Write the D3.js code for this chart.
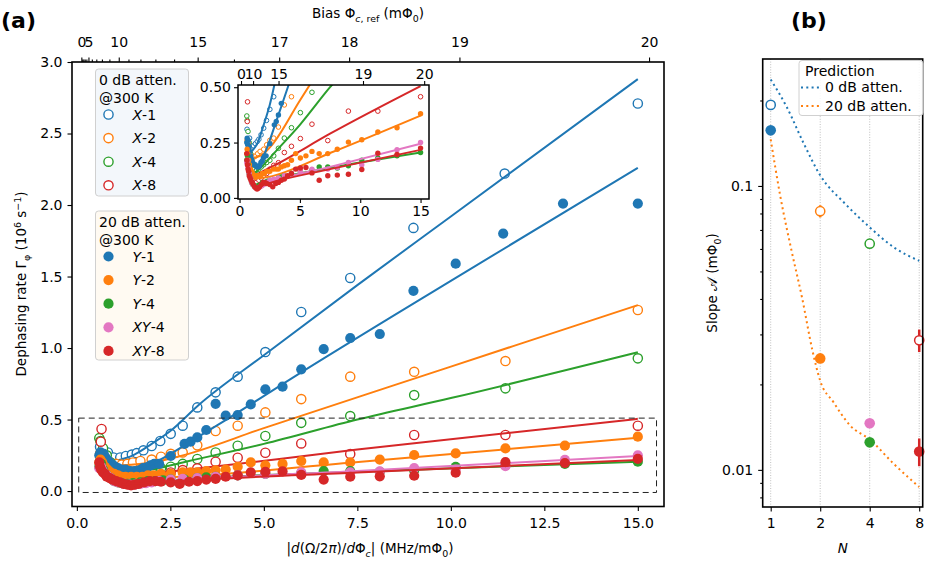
<!DOCTYPE html>
<html lang="en">
<head>
<meta charset="UTF-8">
<title>Dephasing rate vs flux slope</title>
<script src="https://d3js.org/d3.v7.min.js"></script>
<style>
  body { margin: 0; background: #fff; }
  svg text { font-family: "DejaVu Sans", sans-serif; fill: #000; }
</style>
</head>
<body>
<svg id="fig" width="925" height="563"></svg>
<script>
// ---------- panel (a): [slope, dephasing rate] ----------
const ptsX1 = [[0.62,0.31],[0.83,0.27],[0.98,0.235],[1.16,0.235],[1.31,0.245],[1.47,0.255],[1.6,0.265],
  [1.78,0.285],[2.0,0.315],[2.23,0.35],[2.51,0.40],[2.83,0.457],[3.22,0.585],[3.71,0.69],[4.3,0.80],
  [5.04,0.972],[6.0,1.252],[7.31,1.49],[9.0,1.84],[11.44,2.22],[15.0,2.71]];
const ptsX2 = [[0.62,0.26],[0.75,0.22],[0.9,0.2],[1.05,0.19],[1.2,0.185],[1.35,0.19],[1.5,0.2],[1.7,0.21],
  [2.0,0.22],[2.25,0.24],[2.51,0.26],[2.83,0.27],[3.22,0.32],[3.71,0.42],[4.3,0.457],[5.04,0.55],
  [6.0,0.643],[7.31,0.80],[9.02,0.834],[11.46,0.909],[15.0,1.266]];
const ptsX4 = [[0.6,0.37],[0.63,0.35],[0.7,0.3],[0.8,0.25],[0.9,0.2],[1.0,0.17],[1.1,0.15],[1.25,0.13],
  [1.4,0.125],[1.6,0.13],[1.8,0.14],[2.0,0.15],[2.25,0.16],[2.51,0.17],[2.83,0.19],[3.22,0.224],
  [3.71,0.27],[4.3,0.317],[5.04,0.385],[6.0,0.477],[7.31,0.524],[9.02,0.671],[11.46,0.718],[15.0,0.928]];
const ptsX8 = [[0.66,0.434],[0.64,0.345],[0.7,0.25],[0.8,0.18],[0.9,0.13],[1.0,0.1],[1.1,0.08],[1.25,0.07],
  [1.4,0.07],[1.6,0.08],[1.8,0.09],[2.0,0.1],[2.25,0.11],[2.51,0.13],[2.83,0.147],[3.22,0.159],
  [3.71,0.205],[4.3,0.233],[5.04,0.268],[6.0,0.333],[7.31,0.259],[9.02,0.392],[11.46,0.392],[15.0,0.457]];
const ptsY1 = [[0.6,0.25],[0.63,0.27],[0.67,0.24],[0.72,0.26],[0.78,0.23],[0.85,0.21],[0.92,0.19],
  [1.0,0.175],[1.1,0.16],[1.2,0.15],[1.3,0.15],[1.42,0.14],[1.55,0.14],[1.66,0.145],[1.77,0.16],
  [1.87,0.166],[1.97,0.18],[2.07,0.19],[2.2,0.19],[2.51,0.245],[2.88,0.33],[3.04,0.345],[3.22,0.375],
  [3.46,0.427],[3.71,0.61],[3.98,0.527],[4.3,0.531],[4.65,0.606],[5.04,0.711],[5.5,0.73],[6.0,0.851],
  [6.6,0.993],[7.31,1.07],[8.1,1.098],[9.0,1.40],[10.13,1.59],[11.4,1.80],[13.0,2.01],[15.0,2.01]];
const ptsY2 = [[0.6,0.2],[0.63,0.22],[0.68,0.2],[0.75,0.17],[0.82,0.15],[0.9,0.13],[1.0,0.12],[1.1,0.11],
  [1.2,0.1],[1.3,0.1],[1.45,0.1],[1.6,0.1],[1.75,0.1],[1.9,0.11],[2.06,0.11],[2.25,0.12],[2.51,0.12],
  [2.83,0.13],[3.04,0.13],[3.22,0.13],[3.46,0.14],[3.71,0.145],[3.98,0.15],[4.3,0.17],[4.65,0.2],
  [5.04,0.18],[5.5,0.19],[6.0,0.21],[6.6,0.2],[7.31,0.2],[8.1,0.22],[9.02,0.252],[10.13,0.263],
  [11.46,0.298],[13.05,0.317],[15.0,0.38]];
const ptsY4 = [[0.6,0.17],[0.65,0.19],[0.7,0.15],[0.8,0.11],[0.9,0.09],[1.0,0.07],[1.1,0.06],[1.2,0.055],
  [1.35,0.05],[1.5,0.055],[1.7,0.06],[1.9,0.07],[2.1,0.07],[2.3,0.075],[2.51,0.08],[2.88,0.08],
  [3.22,0.09],[3.46,0.095],[3.71,0.1],[4.3,0.11],[5.04,0.12],[6.0,0.125],[6.6,0.14],[7.31,0.14],
  [8.1,0.135],[9.02,0.145],[10.13,0.17],[11.46,0.18],[13.05,0.19],[15.0,0.205]];
const ptsXY4 = [[0.6,0.16],[0.65,0.17],[0.7,0.14],[0.8,0.11],[0.9,0.09],[1.0,0.07],[1.1,0.06],[1.25,0.05],
  [1.4,0.045],[1.55,0.045],[1.7,0.05],[1.85,0.055],[2.0,0.06],[2.2,0.07],[2.51,0.08],[2.83,0.085],
  [3.22,0.09],[3.71,0.1],[4.3,0.11],[5.04,0.12],[6.0,0.13],[7.31,0.13],[8.1,0.137],[9.02,0.16],
  [10.13,0.15],[11.46,0.174],[13.05,0.218],[15.0,0.25]];
const ptsXY8 = [[0.6,0.2],[0.62,0.17],[0.65,0.15],[0.7,0.13],[0.75,0.12],[0.8,0.1],[0.88,0.09],[0.95,0.08],
  [1.05,0.07],[1.15,0.06],[1.25,0.05],[1.35,0.045],[1.45,0.04],[1.55,0.045],[1.65,0.05],[1.8,0.06],
  [1.95,0.07],[2.1,0.07],[2.25,0.065],[2.51,0.06],[2.75,0.05],[3.0,0.065],[3.22,0.07],[3.46,0.08],
  [3.71,0.085],[3.98,0.1],[4.3,0.11],[4.65,0.13],[5.04,0.135],[5.5,0.137],[6.0,0.113],[6.6,0.08],
  [7.31,0.1],[8.1,0.103],[9.02,0.107],[10.13,0.128],[11.46,0.202],[13.05,0.196],[15.0,0.225]];

// fit curves, knots
const fitX1 = [[1.0,0.21],[1.5,0.25],[2.0,0.33],[2.5,0.42],[3.25,0.6],[5,0.95],[7.5,1.44],[10,1.92],[15,2.88]];
const fitX2 = [[1.2,0.18],[2.0,0.2],[2.7,0.24],[5,0.44],[10,0.87],[15,1.30]];
const fitX4 = [[1.2,0.11],[2,0.15],[3,0.21],[5,0.33],[7.5,0.5],[10,0.65],[15,0.97]];
const fitX8 = [[1.2,0.1],[3,0.15],[7.5,0.29],[15,0.505]];
const fitY1 = [[1.2,0.14],[1.6,0.15],[2.0,0.19],[2.5,0.26],[3.0,0.34],[4.0,0.5],[6,0.83],[10,1.47],[15,2.26]];
const fitY2 = [[1.2,0.085],[2.4,0.095],[7.6,0.205],[15,0.372]];
const fitY4 = [[1.2,0.05],[3,0.085],[7.5,0.135],[15,0.205]];
const fitXY4 = [[1.2,0.045],[3,0.08],[7.5,0.14],[15,0.245]];
const fitXY8 = [[1.2,0.045],[3,0.075],[7.5,0.13],[15,0.217]];

// top axis: bias values and the slope they sit at
const biasLabels = ['0','5','10','15','17','18','19','20'];
const biasAt = [0.12,0.31,1.12,3.23,5.41,7.28,10.23,15.3];
const biasMinorAt = [0.145,0.175,0.21,0.255,0.4,0.52,0.67,0.87,1.38,1.7,2.1,2.6,4.2];
const insetBiasLabels = ['0','10','15','19','20'];
const insetBiasAt = [0.12,1.12,3.23,10.23,15.3];
const zoomBox = [[0.05,15.5],[-0.01,0.51]];

// ---------- panel (b): fitted slopes ----------
const slopeName = ['X-1','Y-1','X-2','Y-2','X-4','Y-4','XY-4','X-8','XY-8'];
const slopeN    = [1,1,2,2,4,4,4,8,8];
const slopeVal  = [0.193,0.157,0.0815,0.0247,0.0626,0.0125,0.0146,0.0286,0.0116];
const slopeErr  = [0.003,0.003,0.004,0.0008,0.0015,0.0004,0.0004,0.0026,0.0013];
const pred0N    = [1,1.25,1.58,2,2.84,4,5.6,8];
const pred0Val  = [0.237,0.19,0.142,0.109,0.0865,0.0715,0.0608,0.0545];
const pred20N   = [1,1.14,1.34,1.55,1.8,2,2.41,3.05,4,5.6,8];
const pred20Val = [0.146,0.093,0.059,0.0405,0.0261,0.0206,0.0173,0.0143,0.0128,0.0105,0.0087];

const C = {blue:'#1f77b4', orange:'#ff7f0e', green:'#2ca02c', red:'#d62728', pink:'#e377c2'};
const series = [
  {name:['X','-1'],  pts:ptsX1,  fit:fitX1,  color:C.blue,   open:true},
  {name:['X','-2'],  pts:ptsX2,  fit:fitX2,  color:C.orange, open:true},
  {name:['X','-4'],  pts:ptsX4,  fit:fitX4,  color:C.green,  open:true},
  {name:['X','-8'],  pts:ptsX8,  fit:fitX8,  color:C.red,    open:true},
  {name:['Y','-1'],  pts:ptsY1,  fit:fitY1,  color:C.blue,   open:false},
  {name:['Y','-2'],  pts:ptsY2,  fit:fitY2,  color:C.orange, open:false},
  {name:['Y','-4'],  pts:ptsY4,  fit:fitY4,  color:C.green,  open:false},
  {name:['XY','-4'], pts:ptsXY4, fit:fitXY4, color:C.pink,   open:false},
  {name:['XY','-8'], pts:ptsXY8, fit:fitXY8, color:C.red,    open:false}
];
const slopeColor = {'X-1':C.blue,'Y-1':C.blue,'X-2':C.orange,'Y-2':C.orange,'X-4':C.green,
  'Y-4':C.green,'XY-4':C.pink,'X-8':C.red,'XY-8':C.red};

const FS = 14;   // tick / legend text
const svg = d3.select('#fig');

// text with italic / sub / superscript pieces: [str, flags] flags: i s S
function rich(parent, parts, fs) {
  const t = parent.append('text').attr('font-size', fs);
  let shift = 0;
  parts.forEach(([s, o = '']) => {
    const want = o.includes('s') ? 0.28*fs : o.includes('S') ? -0.38*fs : 0;
    const sp = t.append('tspan').text(s).attr('dy', want - shift);
    if (want) sp.attr('font-size', fs*0.7);
    if (o.includes('i')) sp.attr('font-style', 'italic');
    shift = want;
  });
  return t;
}

function styleAxis(g, fs) {
  g.attr('font-family', null).attr('font-size', null);
  g.select('.domain').remove();
  g.selectAll('.tick line').attr('stroke', '#000').attr('stroke-width', 1.1);
  g.selectAll('.tick text').attr('font-size', fs).attr('fill', '#000');
}

// ================= panel (a) =================
const xA = d3.scaleLinear().domain([-0.13, 15.7]).range([72, 664]);
const yA = d3.scaleLinear().domain([-0.108, 3.0]).range([506.5, 62]);
const line = (xs, ys) => d3.line().x(d => xs(d[0])).y(d => ys(d[1])).curve(d3.curveMonotoneX);

svg.append('clipPath').attr('id','clipA').append('rect')
  .attr('x',72).attr('y',62).attr('width',592).attr('height',444.5);

styleAxis(svg.append('g').attr('transform','translate(0,506.5)')
  .call(d3.axisBottom(xA).tickValues([0,2.5,5,7.5,10,12.5,15]).tickFormat(d3.format('.1f'))
    .tickSize(4.5).tickPadding(7)), FS);
styleAxis(svg.append('g').attr('transform','translate(72,0)')
  .call(d3.axisLeft(yA).tickValues([0,0.5,1,1.5,2,2.5,3]).tickFormat(d3.format('.1f'))
    .tickSize(4.5).tickPadding(5)), FS);
styleAxis(svg.append('g').attr('transform','translate(0,62)')
  .call(d3.axisTop(xA).tickValues(biasMinorAt).tickFormat('').tickSize(2.5)), FS);
styleAxis(svg.append('g').attr('transform','translate(0,62)')
  .call(d3.axisTop(xA).tickValues(biasAt).tickFormat((d,i) => biasLabels[i])
    .tickSize(4.5).tickPadding(11)), FS);

const plotA = svg.append('g').attr('clip-path','url(#clipA)');
series.forEach(s => {
  plotA.append('g').selectAll('circle').data(s.pts).join('circle')
    .attr('cx', d => xA(d[0])).attr('cy', d => yA(d[1]))
    .attr('r', s.open ? 4.6 : 5.1)
    .attr('fill', s.open ? '#fff' : s.color)
    .attr('stroke', s.open ? s.color : 'none').attr('stroke-width', 1.4);
  plotA.append('path').datum(s.fit).attr('d', line(xA, yA))
    .attr('fill','none').attr('stroke', s.color).attr('stroke-width', 2);
});

// zoom window
svg.append('rect')
  .attr('x', xA(zoomBox[0][0])).attr('y', yA(zoomBox[1][1]))
  .attr('width', xA(zoomBox[0][1]) - xA(zoomBox[0][0]))
  .attr('height', yA(zoomBox[1][0]) - yA(zoomBox[1][1]))
  .attr('fill','none').attr('stroke','#222').attr('stroke-width',1).attr('stroke-dasharray','6,4');

svg.append('rect').attr('x',72).attr('y',62).attr('width',592).attr('height',444.5)
  .attr('fill','none').attr('stroke','#000').attr('stroke-width',1.6);

// legends
function legendBox(y0, h, fill, title, items) {
  const g = svg.append('g');
  g.append('rect').attr('x',95.5).attr('y',y0).attr('width',93).attr('height',h).attr('rx',3)
    .attr('fill',fill).attr('stroke','#d0d0d0').attr('stroke-width',1);
  title.forEach((t,i) => g.append('text').attr('x',99).attr('y',y0 + 15.5 + i*18)
    .attr('font-size',FS).text(t));
  items.forEach((s,i) => {
    const cy = y0 + 45.5 + i*23.6;
    g.append('circle').attr('cx',108.5).attr('cy',cy).attr('r', s.open ? 4.6 : 5.1)
      .attr('fill', s.open ? '#fff' : s.color)
      .attr('stroke', s.open ? s.color : 'none').attr('stroke-width',1.4);
    rich(g, [[s.name[0],'i'],[s.name[1]]], FS).attr('x',132.5).attr('y',cy + 5);
  });
}
legendBox(69, 127, '#f3f7fb', ['0 dB atten.','@300 K'], series.slice(0,4));
legendBox(211, 149, '#fffaf2', ['20 dB atten.','@300 K'], series.slice(4));

// inset
const xI = d3.scaleLinear().domain([-0.13, 15.7]).range([238, 429]);
const yI = d3.scaleLinear().domain([-0.005, 0.51]).range([199, 85]);
svg.append('rect').attr('x',238).attr('y',85).attr('width',191).attr('height',114).attr('fill','#fff');
svg.append('clipPath').attr('id','clipI').append('rect')
  .attr('x',238).attr('y',85).attr('width',191).attr('height',114);
const plotI = svg.append('g').attr('clip-path','url(#clipI)');
series.forEach(s => {
  plotI.append('g').selectAll('circle').data(s.pts).join('circle')
    .attr('cx', d => xI(d[0])).attr('cy', d => yI(d[1]))
    .attr('r', s.open ? 2.3 : 2.7)
    .attr('fill', s.open ? '#fff' : s.color)
    .attr('stroke', s.open ? s.color : 'none').attr('stroke-width', 1);
  plotI.append('path').datum(s.fit).attr('d', line(xI, yI))
    .attr('fill','none').attr('stroke', s.color).attr('stroke-width', 2);
});
styleAxis(svg.append('g').attr('transform','translate(0,199)')
  .call(d3.axisBottom(xI).tickValues([0,5,10,15]).tickSize(4).tickPadding(3)), FS);
styleAxis(svg.append('g').attr('transform','translate(238,0)')
  .call(d3.axisLeft(yI).tickValues([0,0.25,0.5]).tickFormat(d3.format('.2f')).tickSize(4).tickPadding(3)), FS);
styleAxis(svg.append('g').attr('transform','translate(0,85)')
  .call(d3.axisTop(xI).tickValues(insetBiasAt).tickFormat((d,i) => insetBiasLabels[i])
    .tickSize(4).tickPadding(2)), FS);
svg.append('rect').attr('x',238).attr('y',85).attr('width',191).attr('height',114)
  .attr('fill','none').attr('stroke','#000').attr('stroke-width',1.5);

// labels
svg.append('text').attr('x',1).attr('y',28).attr('font-size',22).attr('font-weight','bold').text('(a)');
rich(svg, [['Bias Φ'],['c','is'],[', ref','s'],[' (mΦ'],['0','s'],[')']], 13.5)
  .attr('x',368).attr('y',18).attr('text-anchor','middle');
rich(svg, [['|'],['d','i'],['(Ω/2'],['π','i'],[')/'],['d','i'],['Φ'],['c','is'],['| (MHz/mΦ'],['0','s'],[')']], 13.5)
  .attr('x',370).attr('y',553).attr('text-anchor','middle');
rich(svg, [['Dephasing rate Γ'],['φ','s'],[' (10'],['6','S'],[' s'],['−1','S'],[')']], 13.5)
  .attr('text-anchor','middle').attr('transform','translate(26,284) rotate(-90)');

// ================= panel (b) =================
const xB = d3.scaleLog().base(2).domain([0.894, 8.4]).range([762.7, 922.7]);
const yB = d3.scaleLog().domain([0.0074, 0.28]).range([507, 59]);

// vertical guides
svg.append('g').selectAll('line').data([1,2,4,8]).join('line')
  .attr('x1', d => xB(d)).attr('x2', d => xB(d)).attr('y1',59).attr('y2',507)
  .attr('stroke','#b0b0b0').attr('stroke-width',0.8).attr('stroke-dasharray','1,1.6');

styleAxis(svg.append('g').attr('transform','translate(0,507)')
  .call(d3.axisBottom(xB).tickValues([1,2,4,8]).tickFormat(d3.format('d')).tickSize(4.5).tickPadding(7)), FS);
styleAxis(svg.append('g').attr('transform','translate(762.7,0)')
  .call(d3.axisLeft(yB).tickValues([0.01,0.1]).tickFormat(d => d === 0.1 ? '0.1' : '0.01')
    .tickSize(4.5).tickPadding(5)), FS);
styleAxis(svg.append('g').attr('transform','translate(762.7,0)')
  .call(d3.axisLeft(yB).tickValues([0.008,0.009,0.02,0.03,0.04,0.05,0.06,0.07,0.08,0.09,0.2])
    .tickFormat('').tickSize(2.5)), FS);

const predLine = d3.line().x(d => xB(d[0])).y(d => yB(d[1])).curve(d3.curveMonotoneX);
const pred = [
  {pts: d3.zip(pred0N, pred0Val), color: C.blue, label: '0 dB atten.'},
  {pts: d3.zip(pred20N, pred20Val), color: C.orange, label: '20 dB atten.'}
];
pred.forEach(p => svg.append('path').datum(p.pts).attr('d', predLine)
  .attr('fill','none').attr('stroke', p.color).attr('stroke-width',2).attr('stroke-dasharray','2,3.3'));

const slopes = slopeName.map((n,i) => ({n, N: slopeN[i], v: slopeVal[i], e: slopeErr[i],
  open: n[0] === 'X' && n[1] === '-'}));
svg.append('g').selectAll('line').data(slopes).join('line')
  .attr('x1', d => xB(d.N)).attr('x2', d => xB(d.N))
  .attr('y1', d => yB(d.v - d.e)).attr('y2', d => yB(d.v + d.e))
  .attr('stroke', d => slopeColor[d.n]).attr('stroke-width',2.5);
svg.append('g').selectAll('circle').data(slopes).join('circle')
  .attr('cx', d => xB(d.N)).attr('cy', d => yB(d.v))
  .attr('r', d => d.open ? 4.6 : 5.3)
  .attr('fill', d => d.open ? '#fff' : slopeColor[d.n])
  .attr('stroke', d => d.open ? slopeColor[d.n] : 'none').attr('stroke-width',1.5);

svg.append('rect').attr('x',762.7).attr('y',59).attr('width',160).attr('height',448)
  .attr('fill','none').attr('stroke','#000').attr('stroke-width',1.6);

// prediction legend
const lg = svg.append('g');
lg.append('rect').attr('x',799).attr('y',60.5).attr('width',124).attr('height',55).attr('rx',3)
  .attr('fill','rgba(255,255,255,0.85)').attr('stroke','#d0d0d0');
lg.append('text').attr('x',805).attr('y',75.5).attr('font-size',FS).text('Prediction');
pred.forEach((p,i) => {
  const y = 92 + i*18.5;
  lg.append('line').attr('x1',801).attr('x2',821).attr('y1',y - 4.6).attr('y2',y - 4.6)
    .attr('stroke',p.color).attr('stroke-width',2).attr('stroke-dasharray','2,3.3');
  lg.append('text').attr('x',825).attr('y',y).attr('font-size',FS).text(p.label);
});

svg.append('text').attr('x',791).attr('y',28).attr('font-size',22).attr('font-weight','bold').text('(b)');
rich(svg, [['N','i']], 13.5).attr('x',842.7).attr('y',553).attr('text-anchor','middle');
rich(svg, [['Slope '],['𝒜'],[' (mΦ'],['0','s'],[')']], 13.5)
  .attr('text-anchor','middle').attr('transform','translate(717,283) rotate(-90)');
</script>
</body>
</html>
